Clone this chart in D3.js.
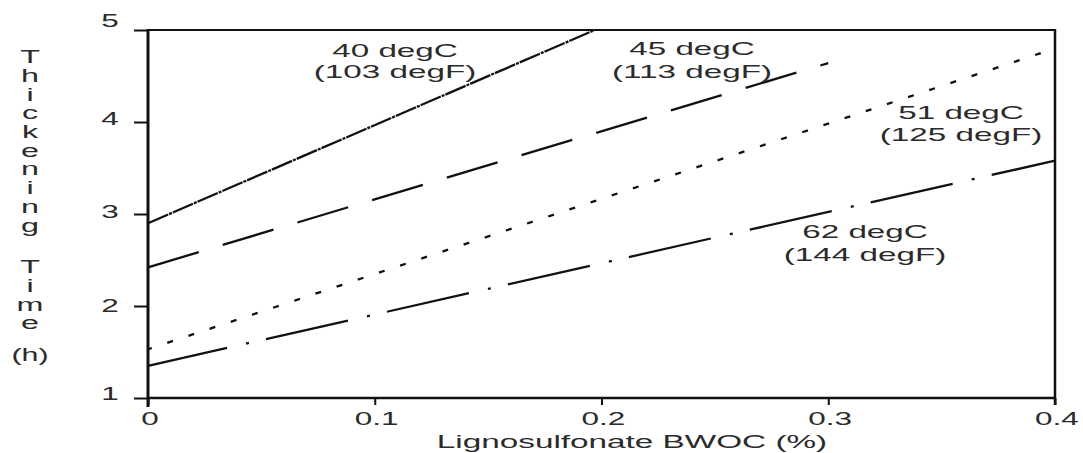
<!DOCTYPE html>
<html>
<head>
<meta charset="utf-8">
<script src="https://cdn.jsdelivr.net/npm/d3@7"></script>
<style>
  html, body { margin: 0; padding: 0; background: #fff; }
  svg { display: block; }
  text { font-family: "Liberation Sans", Arial, sans-serif; fill: #2b2b2b; }
  .vert { writing-mode: vertical-rl; text-orientation: upright; letter-spacing: -2.8px; }
</style>
</head>
<body>
<svg id="chart" width="1083" height="453"></svg>
<script>
// ---- data ----
const xTicks = [0, 0.1, 0.2, 0.3, 0.4];
const yTicks = [1, 2, 3, 4, 5];
const xTickLabels = ["0", "0.1", "0.2", "0.3", "0.4"];
const yTickLabels = ["1", "2", "3", "4", "5"];

const seriesC = ["40 degC", "45 degC", "51 degC", "62 degC"];
const seriesF = ["(103 degF)", "(113 degF)", "(125 degF)", "(144 degF)"];

const bwoc40 = [0, 0.197];
const time40 = [2.9, 5.0];
const bwoc45 = [0, 0.30];
const time45 = [2.42, 4.64];
const bwoc51 = [0, 0.40];
const time51 = [1.53, 4.80];
const bwoc62 = [0, 0.40];
const time62 = [1.35, 3.58];

const xTitle = "Lignosulfonate BWOC (%)";
const yTitleWords = ["Thickening", "Time", "(h)"];

// ---- layout ----
const svg = d3.select("#chart");
const L = 148, R = 1055, T = 30, B = 398;
const x = d3.scaleLinear().domain([0, 0.4]).range([L, R]);
const y = d3.scaleLinear().domain([1, 5]).range([B, T]);

const SX = 1.75; // horizontal stretch of the scanned lettering
function stretchedText(g, str, px, py, size, sx, anchor) {
  return g.append("text")
    .attr("transform", `translate(${px},${py}) scale(${sx},1)`)
    .attr("text-anchor", anchor || "middle")
    .style("font-size", size + "px")
    .text(str);
}

// axes (ticks only, frame drawn separately)
const xAxis = svg.append("g")
  .attr("transform", `translate(0,${B})`)
  .call(d3.axisBottom(x).tickValues(xTicks).tickSize(7).tickFormat(""));
xAxis.select(".domain").remove();
xAxis.selectAll(".tick line").attr("stroke", "#111").attr("stroke-width", 2);

const yAxis = svg.append("g")
  .attr("transform", `translate(${L},0)`)
  .call(d3.axisLeft(y).tickValues(yTicks).tickSize(14).tickFormat(""));
yAxis.select(".domain").remove();
yAxis.selectAll(".tick line").attr("stroke", "#111").attr("stroke-width", 2);

// frame
svg.append("line").attr("x1", L - 1).attr("x2", R + 1).attr("y1", T).attr("y2", T)
  .attr("stroke", "#111").attr("stroke-width", 2);
svg.append("line").attr("x1", L).attr("x2", R).attr("y1", B).attr("y2", B)
  .attr("stroke", "#111").attr("stroke-width", 2.5);
svg.append("line").attr("x1", L).attr("x2", L).attr("y1", T - 1).attr("y2", B + 9)
  .attr("stroke", "#111").attr("stroke-width", 3);
svg.append("line").attr("x1", R).attr("x2", R).attr("y1", T - 1).attr("y2", B + 7)
  .attr("stroke", "#111").attr("stroke-width", 2.5);

// tick labels
const tl = svg.append("g");
xTicks.forEach((v, i) => stretchedText(tl, xTickLabels[i], x(v) + 2, 425, 18, SX));
const yOff = [2, 6, 4, 3, -3];
yTicks.forEach((v, i) => stretchedText(tl, yTickLabels[i], 110, y(v) + yOff[i], 18, SX));

// axis titles
stretchedText(svg, xTitle, 632, 448, 18.5, 1.8);
const yt = svg.append("g");
const wordTops = [46, 256, 361];
yTitleWords.forEach((w, wi) => {
  if (w === "(h)") {
    stretchedText(yt, w, 30, wordTops[wi], 19, 1.6);
  } else {
    yt.append("text")
      .attr("class", "vert")
      .attr("transform", `translate(30,${wordTops[wi]}) scale(1.7,1)`)
      .attr("x", 0).attr("y", 0)
      .style("font-size", "19px")
      .text(w);
  }
});

// lines
const line = d3.line().x(d => x(d[0])).y(d => y(d[1]));
const lines = [
  { xs: bwoc40, ys: time40, dash: "22,1,3,1", off: 0, w: 2.3 },
  { xs: bwoc45, ys: time45, dash: "53,25", off: 0, w: 2.3 },
  { xs: bwoc51, ys: time51, dash: "6,16.3", off: 2, w: 2.3 },
  { xs: bwoc62, ys: time62, dash: "84,19.5,3,17.5", off: 3, w: 2.3 }
];
svg.append("g").selectAll("path").data(lines).join("path")
  .attr("d", s => line(s.xs.map((v, i) => [v, s.ys[i]])))
  .attr("fill", "none")
  .attr("stroke", "#111")
  .attr("stroke-width", s => s.w)
  .attr("stroke-dasharray", s => s.dash)
  .attr("stroke-dashoffset", s => s.off);

// series labels
const lab = svg.append("g");
const labPos = [[395, 57, 78], [692, 55, 78], [961, 119, 141], [865, 238, 261]];
seriesC.forEach((c, i) => {
  stretchedText(lab, c, labPos[i][0], labPos[i][1], 19, SX);
  stretchedText(lab, seriesF[i], labPos[i][0], labPos[i][2], 19, SX);
});
</script>
</body>
</html>
